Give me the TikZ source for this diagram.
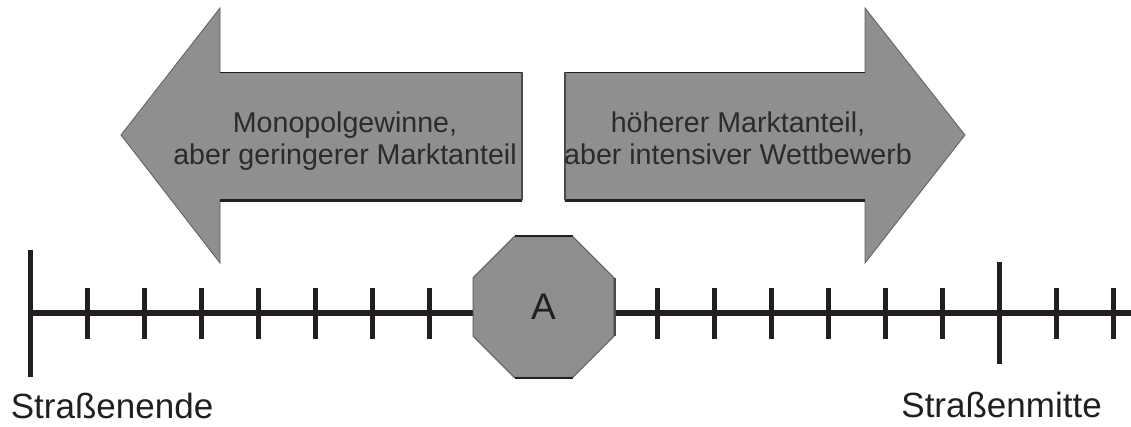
\documentclass[tikz,border=0pt]{standalone}
\usepackage{fontspec}
\setmainfont{Liberation Sans}
\usetikzlibrary{shapes.geometric,calc}

\definecolor{fillgray}{HTML}{8E8F91}
\definecolor{inkdark}{HTML}{231F20}
\definecolor{textdark}{HTML}{2B2B2B}
\definecolor{edgegray}{HTML}{5E5E5E}
\definecolor{sidegray}{HTML}{4A4A4A}

\begin{document}
\begin{tikzpicture}[x=0.5pt,y=-0.5pt,
  arrowbody/.style={fill=fillgray, draw=edgegray, line width=0.4pt, line join=miter},
  shaftedge/.style={draw=inkdark, line width=0.9pt},
  sideedge/.style={draw=sidegray, line width=1pt},
  axisline/.style={draw=inkdark, line width=3pt},
  tickmark/.style={draw=inkdark, line width=2.2pt},
  arrowtext/.style={font=\fontsize{14.3}{16}\selectfont, text=textdark, align=center, inner sep=0pt},
  endlabel/.style={font=\fontsize{17.5}{20}\selectfont, text=inkdark, inner sep=0pt, anchor=base west},
  marker/.style={regular polygon, regular polygon sides=8, minimum size=76.3pt, inner sep=0pt,
    fill=fillgray, draw=edgegray, line width=0.5pt, font=\fontsize{18.5}{20}\selectfont, text=inkdark}
]
\useasboundingbox[fill=white] (0,0) rectangle (1131,427);

% left arrow: towards the end of the street
\draw[arrowbody] (121,135) -- (220,8) -- (220,72.5) -- (522,72.5) -- (522,200.5)
  -- (220,200.5) -- (220,263) -- cycle;
\draw[shaftedge] (220,72.5) -- (522,72.5);
\draw[shaftedge, line width=1.3pt] (220,200.5) -- (522,200.5);
\draw[sideedge] (522,72.5) -- (522,200.5);
% the base anchor of a two-line node sits on its last line
\node[arrowtext, anchor=base] (lefttext) at (345,165)
  {Monopolgewinne,\\aber geringerer Marktanteil};

% right arrow: towards the middle of the street
\draw[arrowbody] (965,135) -- (865,8) -- (865,72.5) -- (565,72.5) -- (565,200.5)
  -- (865,200.5) -- (865,263) -- cycle;
\draw[shaftedge] (565,72.5) -- (865,72.5);
\draw[shaftedge, line width=1.3pt] (565,200.5) -- (865,200.5);
\draw[sideedge] (565,72.5) -- (565,200.5);
\node[arrowtext, anchor=base] (righttext) at (738,165)
  {höherer Marktanteil,\\aber intensiver Wettbewerb};

% the street as a scale
\coordinate (axisL) at (30.5,313.3);
\coordinate (axisR) at (1131,313.3);
\draw[axisline] (axisL) -- (axisR);
\foreach \k in {1,...,7,11,12,...,16,18,19}
  \draw[tickmark] (30.5+57*\k,288.3) -- (30.5+57*\k,339);
\draw[tickmark] (30.5,250) -- (30.5,376.7);
\draw[tickmark] (999.5,262.3) -- (999.5,364);

% location of supplier A
\node[marker] (A) at (543.5,307) {A};
\draw[shaftedge] ($(A.north)+(-29,0)$) -- ($(A.north)+(29,0)$);
\draw[shaftedge] ($(A.south)+(-29,0)$) -- ($(A.south)+(29,0)$);
\draw[sideedge] ($(A.east)+(0,-29)$) -- ($(A.east)+(0,29)$);

\node[endlabel] (ende) at (10.5,419) {Straßenende};
\node[endlabel] (mitte) at (901,418) {Straßenmitte};
\end{tikzpicture}
\end{document}
